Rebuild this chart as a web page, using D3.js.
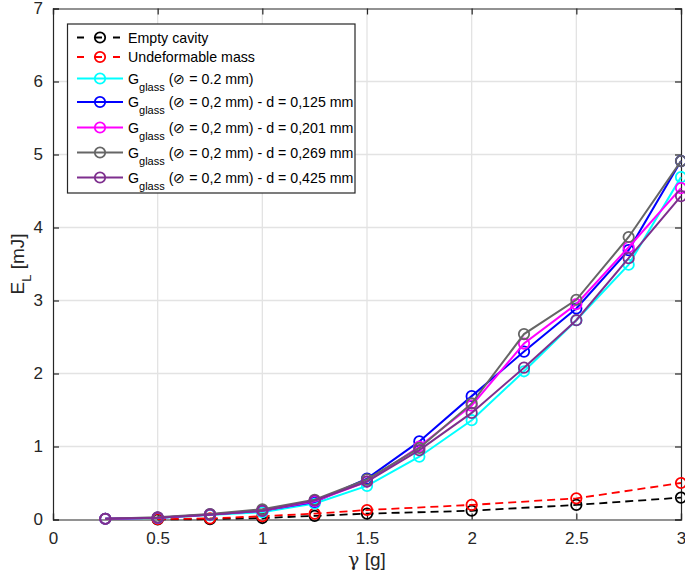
<!DOCTYPE html>
<html><head><meta charset="utf-8">
<script src="https://cdn.jsdelivr.net/npm/d3@7"></script>
<style>body{margin:0;background:#fff}text{font-family:"Liberation Sans",Arial,sans-serif}</style>
</head><body>
<svg id="c" width="685" height="574"></svg>
<script>
const xTicks = [0, 0.5, 1, 1.5, 2, 2.5, 3];
const yTicks = [0, 1, 2, 3, 4, 5, 6, 7];
const xRef = [0.5, 0.75, 1, 1.25, 1.5, 2, 2.5, 3];
const emptyCavity = [0.0, 0.005, 0.02, 0.05, 0.08, 0.12, 0.2, 0.3];
const undeformable = [0.005, 0.015, 0.045, 0.08, 0.13, 0.2, 0.29, 0.5];
const xG = [0.25, 0.5, 0.75, 1, 1.25, 1.5, 1.75, 2, 2.25, 2.5, 2.75, 3];
const gGlass = [0.01, 0.02, 0.06, 0.1, 0.22, 0.46, 0.86, 1.36, 2.03, 2.73, 3.49, 4.69];
const g125 = [0.01, 0.025, 0.07, 0.12, 0.24, 0.56, 1.07, 1.69, 2.3, 2.89, 3.69, 4.91];
const g201 = [0.01, 0.025, 0.07, 0.12, 0.25, 0.52, 1.0, 1.56, 2.41, 2.95, 3.73, 4.54];
const g269 = [0.01, 0.03, 0.075, 0.14, 0.27, 0.55, 0.98, 1.59, 2.54, 3.01, 3.87, 4.91];
const g425 = [0.01, 0.025, 0.065, 0.12, 0.26, 0.52, 0.95, 1.46, 2.08, 2.73, 3.58, 4.43];

const series = [
  {x: xRef, y: emptyCavity, color: "#000000", dash: "8,5", label: "Empty cavity", sub: false},
  {x: xRef, y: undeformable, color: "#ff0000", dash: "8,5", label: "Undeformable mass", sub: false},
  {x: xG, y: gGlass, color: "#00ffff", dash: null, label: " (\u2298 = 0.2 mm)", sub: true},
  {x: xG, y: g125, color: "#0000ff", dash: null, label: " (\u2298 = 0,2 mm) - d = 0,125 mm", sub: true},
  {x: xG, y: g201, color: "#ff00ff", dash: null, label: " (\u2298 = 0,2 mm) - d = 0,201 mm", sub: true},
  {x: xG, y: g269, color: "#666666", dash: null, label: " (\u2298 = 0,2 mm) - d = 0,269 mm", sub: true},
  {x: xG, y: g425, color: "#7e2f8e", dash: null, label: " (\u2298 = 0,2 mm) - d = 0,425 mm", sub: true}
];

const L = 53, R = 681, T = 8.5, B = 519.5;
const svg = d3.select("#c");
const x = d3.scaleLinear().domain([0, 3]).range([L, R]);
const y = d3.scaleLinear().domain([0, 7]).range([B, T]);

// grid
svg.append("g").selectAll("line").data(xTicks.slice(1, -1)).join("line")
  .attr("x1", d => x(d)).attr("x2", d => x(d)).attr("y1", T).attr("y2", B)
  .attr("stroke", "#e3e3e3").attr("stroke-width", 1.3);
svg.append("g").selectAll("line").data(yTicks.slice(1, -1)).join("line")
  .attr("y1", d => y(d)).attr("y2", d => y(d)).attr("x1", L).attr("x2", R)
  .attr("stroke", "#e3e3e3").attr("stroke-width", 1.3);

// axes
const fmt = d3.format("");
const ax = svg.append("g").attr("transform", `translate(0,${B})`)
  .call(d3.axisBottom(x).tickValues(xTicks).tickSize(-6).tickPadding(12).tickFormat(fmt));
const axT = svg.append("g").attr("transform", `translate(0,${T})`)
  .call(d3.axisTop(x).tickValues(xTicks).tickSize(-6).tickFormat(""));
const ay = svg.append("g").attr("transform", `translate(${L},0)`)
  .call(d3.axisLeft(y).tickValues(yTicks).tickSize(-6).tickPadding(10).tickFormat(fmt));
const ayR = svg.append("g").attr("transform", `translate(${R},0)`)
  .call(d3.axisRight(y).tickValues(yTicks).tickSize(-6).tickFormat(""));
[ax, axT, ay, ayR].forEach(g => {
  g.selectAll("path").attr("stroke", "#262626").attr("stroke-width", 1.2);
  g.selectAll("line").attr("stroke", "#262626").attr("stroke-width", 1.2);
  g.selectAll("text").attr("font-size", 17).attr("fill", "#262626")
    .style("font-family", '"Liberation Sans", Arial, sans-serif');
});

// lines
const line = d3.line();
series.forEach(s => {
  const pts = s.x.map((xv, i) => [x(xv), y(s.y[i])]);
  svg.append("path").attr("d", line(pts)).attr("fill", "none")
    .attr("stroke", s.color).attr("stroke-width", s.dash ? 1.8 : 2)
    .attr("stroke-dasharray", s.dash);
  svg.append("g").selectAll("circle").data(pts).join("circle")
    .attr("cx", d => d[0]).attr("cy", d => d[1]).attr("r", 5.2)
    .attr("fill", "none").attr("stroke", s.color).attr("stroke-width", 1.8);
});

// axis labels
svg.append("text").attr("x", x(1.5)).attr("y", 566).attr("text-anchor", "middle")
  .attr("font-size", 19).attr("fill", "#262626")
  .html('<tspan style="font-family:\'DejaVu Serif\',serif">\u03b3</tspan> [g]');
svg.append("text").attr("transform", `translate(24,${(T + B) / 2}) rotate(-90)`)
  .attr("text-anchor", "middle").attr("font-size", 19).attr("fill", "#262626")
  .html('E<tspan font-size="13" dy="7">L</tspan><tspan dy="-7"> [mJ]</tspan>');

// legend
const lg = svg.append("g");
lg.append("rect").attr("x", 67.5).attr("y", 24).attr("width", 287.5).attr("height", 169)
  .attr("fill", "#fff").attr("stroke", "#262626").attr("stroke-width", 1.2);
const ly = [37.5, 57, 78.5, 102, 127.5, 152.5, 177.5];
series.forEach((s, i) => {
  const yy = ly[i];
  lg.append("line").attr("x1", 77).attr("x2", 123).attr("y1", yy).attr("y2", yy)
    .attr("stroke", s.color).attr("stroke-width", s.dash ? 1.8 : 2).attr("stroke-dasharray", s.dash ? "7,11" : null);
  lg.append("circle").attr("cx", 100).attr("cy", yy).attr("r", 5.2).attr("fill", "none")
    .attr("stroke", s.color).attr("stroke-width", 1.8);
  const t = lg.append("text").attr("x", 128).attr("y", yy + 5).attr("font-size", 14.2).attr("fill", "#000");
  if (s.sub) {
    t.append("tspan").text("G");
    t.append("tspan").attr("font-size", 11).attr("dy", 7).text("glass");
    t.append("tspan").attr("dy", -7).text(s.label);
  } else {
    t.text(s.label);
  }
});
</script>
</body></html>
